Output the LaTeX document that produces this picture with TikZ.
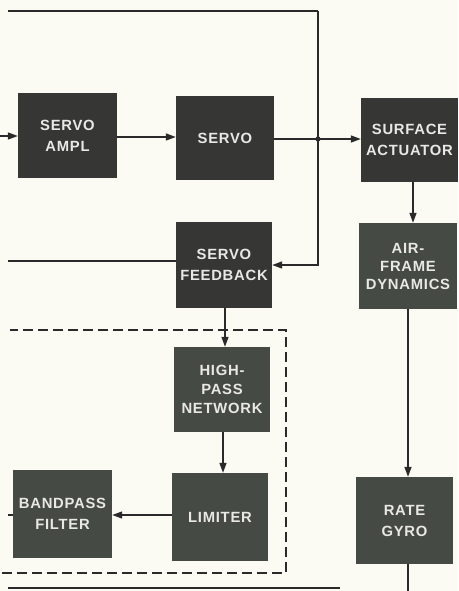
\documentclass[tikz,border=0pt]{standalone}
\usepackage{fontspec}
\setmainfont{Liberation Sans}
\newfontfamily\boxfont[LetterSpace=5]{Liberation Sans}
\usetikzlibrary{arrows.meta}
\definecolor{paper}{HTML}{FCFBF3}
\definecolor{boxdark}{HTML}{363734}
\definecolor{boxgreen}{HTML}{464A44}
\definecolor{ink}{HTML}{2A2A2A}
\definecolor{txt}{HTML}{E8E8E4}
\tikzset{
  blk/.style={draw=none,fill=boxdark,text=txt,minimum width=#1,align=center,
    font=\boxfont\bfseries\fontsize{14.8}{21}\selectfont,inner sep=0pt},
  blk/.default=98pt,
  conn/.style={draw=ink,line width=1.4pt,-{Triangle[length=10pt,width=7pt]}},
  plain/.style={draw=ink,line width=1.4pt},
  dashbox/.style={draw=ink,line width=1.6pt,dash pattern=on 10pt off 5pt}
}
\begin{document}
\begin{tikzpicture}[x=1pt,y=-1pt]
\fill[paper] (0,0) rectangle (458,591);
\useasboundingbox (0,0) rectangle (458,591);
% blocks
\node[blk=99pt,minimum height=85pt] (ampl) at (67.5,135.5) {SERVO\\AMPL};
\node[blk=98pt,minimum height=84pt] (servo) at (225,138) {SERVO};
\node[blk=97pt,minimum height=84pt] (surf) at (409.5,140) {SURFACE\\ACTUATOR};
\node[blk=96pt,minimum height=86pt] (fb) at (224,265) {SERVO\\FEEDBACK};
\node[blk=98pt,minimum height=86pt,fill=boxgreen] (air) at (408,266) {AIR-\\[-3pt]FRAME\\[-3pt]DYNAMICS};
\node[blk=96pt,minimum height=85pt,fill=boxgreen] (hp) at (222,389.5) {HIGH-\\[-2pt]PASS\\[-2pt]NETWORK};
\node[blk=96pt,minimum height=88pt,fill=boxgreen] (lim) at (220,517) {LIMITER};
\node[blk=99pt,minimum height=88pt,fill=boxgreen] (bp) at (62.5,514) {BANDPASS\\FILTER};
\node[blk=97pt,minimum height=87pt,fill=boxgreen] (gyro) at (404.5,520.5) {RATE\\GYRO};
% coordinates
\coordinate (in) at (0,136);
\coordinate (tl) at (8,11);
\coordinate (tr) at (318,11);
\coordinate (jn) at (318,139);
\coordinate (lft) at (8,261);
\coordinate (bpout) at (8,515);
\coordinate (gout) at (408,591);
\coordinate (d1) at (2,573);
\coordinate (d2) at (286,573);
\coordinate (d3) at (286,330);
\coordinate (d4) at (10,330);
\coordinate (b1) at (8,588);
\coordinate (b2) at (340,588);
% connectors
\draw[conn] (in) -- (in -| ampl.west);
\draw[conn] (ampl.east |- 0,137) -- (servo.west |- 0,137);
\draw[conn] (servo.east |- jn) -- (jn -| surf.west);
\fill[ink] (jn) circle (2.6pt);
\draw[plain,line width=1.8pt] (tl) -- (tr);
\draw[conn] (tr) |- (fb.east);
\draw[plain] (lft) -- (lft -| fb.west);
\draw[conn] (fb.south -| 225,0) -- (hp.north -| 225,0);
\draw[conn] (hp.south -| 223,0) -- (lim.north -| 223,0);
\draw[conn] (lim.west |- 0,515) -- (bp.east |- 0,515);
\draw[plain] (bp.west |- bpout) -- (bpout);
\draw[conn] (surf.south -| 413,0) -- (air.north -| 413,0);
\draw[conn] (air.south -| 408,0) -- (gyro.north -| 408,0);
\draw[plain] (gyro.south -| gout) -- (gout);
\draw[dashbox] (d1) -- (d2) -- (d3) -- (d4);
\draw[plain,line width=1.8pt] (b1) -- (b2);
\end{tikzpicture}
\end{document}
